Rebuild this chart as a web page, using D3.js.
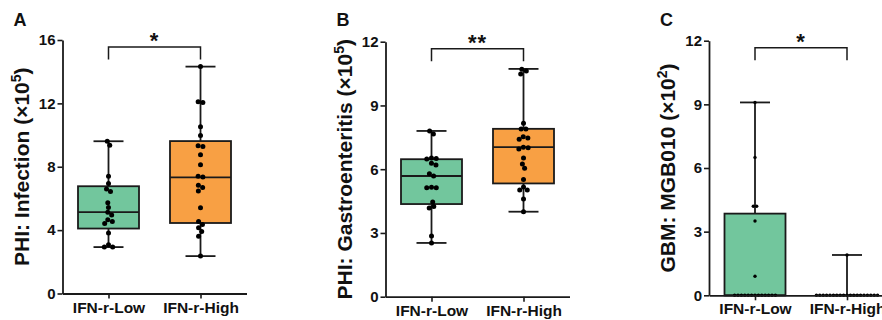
<!DOCTYPE html>
<html>
<head>
<meta charset="utf-8">
<script src="https://cdn.jsdelivr.net/npm/d3@7"></script>
<style>
  body { margin: 0; background: #fff; }
</style>
</head>
<body>
<div id="chart"></div>
<script>
// Data
let groups = ["IFN-r-Low", "IFN-r-High"];

let infectionLow = [9.61, 9.35, 7.4, 6.95, 6.6, 6.43, 5.73, 5.43, 5.13, 4.95, 4.65, 4.55, 4.42, 3.82, 3.08, 2.93, 2.93];
let infectionHigh = [14.32, 12.1, 12.05, 10.53, 9.97, 9.32, 9.28, 8.75, 8.12, 7.4, 7.35, 6.83, 6.69, 6.47, 5.42, 4.54, 4.36, 4.15, 3.92, 3.62, 2.36];
// min, q1, median, q3, max
let infectionBox = [[2.93, 4.1, 5.13, 6.77, 9.61], [2.36, 4.45, 7.33, 9.62, 14.32]];

let gastroLow = [7.8, 7.66, 6.53, 6.5, 6.48, 6.28, 6.2, 5.79, 5.68, 5.15, 5.13, 5.13, 4.46, 4.24, 4.17, 2.86, 2.53];
let gastroHigh = [10.7, 10.62, 10.48, 8.16, 7.89, 7.89, 7.53, 7.47, 7.41, 7.03, 7.01, 6.95, 6.53, 6.24, 6.04, 5.51, 5.16, 5.02, 5.02, 4.6, 4.0];
let gastroBox = [[2.53, 4.36, 5.68, 6.47, 7.8], [4.0, 5.33, 7.04, 7.9, 10.72]];

let mgbLow = [9.09, 6.5, 4.2, 4.2, 3.5, 0.9, 0, 0, 0, 0, 0, 0, 0, 0, 0, 0, 0, 0, 0];
let mgbHigh = [1.9, 0, 0, 0, 0, 0, 0, 0, 0, 0, 0, 0, 0, 0, 0, 0, 0, 0, 0, 0];
let mgbBox = [[0, 0, 0, 3.85, 9.09], [0, 0, 0, 0, 1.9]];

let ticksA = [0, 4, 8, 12, 16];
let ticksB = [0, 3, 6, 9, 12];
let ticksC = [0, 3, 6, 9, 12];

let colors = ["#72c69d", "#f8a044"];
let ink = "#1a1a1a";
let font = '"Liberation Sans", Arial, Helvetica, sans-serif';

let w = 882;
let h = 320;

let panels = [
  { letter: "A", title: "PHI: Infection (×10", exp: "5", star: "*",
    values: [infectionLow, infectionHigh], box: infectionBox, ticks: ticksA,
    x0: 62.5, top: 40, bottom: 293.5, r: 2.5, gap: 4.8 },
  { letter: "B", title: "PHI: Gastroenteritis (×10", exp: "5", star: "**",
    values: [gastroLow, gastroHigh], box: gastroBox, ticks: ticksB,
    x0: 385.5, top: 41.7, bottom: 296.7, r: 2.5, gap: 4.8 },
  { letter: "C", title: "GBM: MGB010 (×10", exp: "2", star: "*",
    values: [mgbLow, mgbHigh], box: mgbBox, ticks: ticksC,
    x0: 709, top: 40.7, bottom: 295.3, r: 1.7, gap: 3.4 },
];

let svg = d3.select("#chart").append("svg")
  .attr("width", w).attr("height", h)
  .attr("font-family", font)
  .attr("font-weight", "bold");

// simple beeswarm: nearest free spot to the centre, then centre each clump
function swarm(vals, y, s) {
  let pts = vals.map((v) => ({ v: v, y: y(v), x: 0 })).sort((a, b) => a.y - b.y);
  let placed = [];
  pts.forEach((p) => {
    let near = placed.filter((q) => Math.abs(q.y - p.y) < s);
    let cands = [0];
    near.forEach((q) => {
      let dx = Math.sqrt(s * s - (q.y - p.y) ** 2);
      cands.push(q.x + dx, q.x - dx);
    });
    cands.sort((a, b) => Math.abs(a) - Math.abs(b) || b - a);
    p.x = cands.find((c) => near.every((q) => (q.x - c) ** 2 + (q.y - p.y) ** 2 >= s * s - 0.01));
    placed.push(p);
  });
  let clump = [];
  let flush = () => {
    if (clump.length) {
      let m = (d3.min(clump, (d) => d.x) + d3.max(clump, (d) => d.x)) / 2;
      clump.forEach((d) => (d.x -= m));
    }
    clump = [];
  };
  pts.forEach((p, i) => {
    if (i && p.y - pts[i - 1].y >= s) flush();
    clump.push(p);
  });
  flush();
  return pts;
}

panels.forEach((p) => {
  let g = svg.append("g");
  let ymax = d3.max(p.ticks);
  let yScale = d3.scaleLinear().domain([0, ymax]).range([p.bottom, p.top]);
  let xScale = d3.scalePoint().domain(groups).range([p.x0, p.x0 + 184]).padding(0.5);
  let bw = 61;
  let cap = 30;
  let sw = 1.8;

  // boxes
  groups.forEach((grp, i) => {
    let b = p.box[i];
    let cx = xScale(grp);
    let bg = g.append("g");
    bg.append("line").attr("x1", cx).attr("x2", cx)
      .attr("y1", yScale(b[4])).attr("y2", yScale(b[3]))
      .attr("stroke", ink).attr("stroke-width", sw);
    bg.append("line").attr("x1", cx).attr("x2", cx)
      .attr("y1", yScale(b[1])).attr("y2", yScale(b[0]))
      .attr("stroke", ink).attr("stroke-width", sw);
    [b[0], b[4]].forEach((v) => {
      bg.append("line").attr("x1", cx - cap / 2).attr("x2", cx + cap / 2)
        .attr("y1", yScale(v)).attr("y2", yScale(v))
        .attr("stroke", ink).attr("stroke-width", sw);
    });
    bg.append("rect")
      .attr("x", cx - bw / 2).attr("width", bw)
      .attr("y", yScale(b[3])).attr("height", yScale(b[1]) - yScale(b[3]))
      .attr("fill", colors[i]).attr("stroke", ink).attr("stroke-width", sw);
    bg.append("line").attr("x1", cx - bw / 2).attr("x2", cx + bw / 2)
      .attr("y1", yScale(b[2])).attr("y2", yScale(b[2]))
      .attr("stroke", ink).attr("stroke-width", sw);

    // points
    g.append("g").selectAll("circle")
      .data(swarm(p.values[i], yScale, p.gap))
      .enter()
      .append("circle")
      .attr("cx", (d) => cx + d.x)
      .attr("cy", (d) => d.y)
      .attr("r", p.r)
      .attr("fill", "#000");
  });

  // axes
  let yAxis = d3.axisLeft(yScale).tickValues(p.ticks).tickSize(5).tickSizeOuter(0).tickPadding(2);
  let ya = g.append("g").attr("transform", "translate(" + p.x0 + ",0)").call(yAxis);
  let xAxis = d3.axisBottom(xScale).tickSize(5).tickSizeOuter(0).tickPadding(3);
  let xa = g.append("g").attr("transform", "translate(0," + p.bottom + ")").call(xAxis);
  [ya, xa].forEach((a) => {
    a.attr("font-family", font).attr("font-weight", "bold");
    a.select(".domain").attr("stroke", ink).attr("stroke-width", sw);
    a.selectAll(".tick line").attr("stroke", ink).attr("stroke-width", 1.6);
    a.selectAll("text").attr("fill", "#111");
  });
  ya.attr("font-size", 15);
  xa.attr("font-size", 15.5);

  // y title
  let t = g.append("text")
    .attr("transform", "translate(" + (p.x0 - 34) + "," + (p.top + p.bottom) / 2 + ") rotate(-90)")
    .attr("text-anchor", "middle")
    .attr("font-size", 21)
    .attr("fill", "#111");
  t.append("tspan").text(p.title);
  t.append("tspan").text(p.exp).attr("font-size", 14).attr("dy", -8);
  t.append("tspan").text(")").attr("dy", 8);

  // panel letter
  g.append("text").text(p.letter)
    .attr("x", p.x0 - 49).attr("y", 25.5)
    .attr("font-size", 18).attr("fill", "#111");

  // significance bracket
  let c1 = xScale(groups[0]);
  let c2 = xScale(groups[1]);
  let yb = p.top + 7;
  g.append("path")
    .attr("d", d3.line()([[c1, yb + 12.5], [c1, yb], [c2, yb], [c2, yb + 12.5]]))
    .attr("fill", "none").attr("stroke", ink).attr("stroke-width", 1.5);
  g.append("text").text(p.star)
    .attr("x", (c1 + c2) / 2).attr("y", p.top + 8)
    .attr("text-anchor", "middle")
    .attr("font-size", 22).attr("letter-spacing", "1px")
    .attr("fill", "#111");
});
</script>
</body>
</html>
